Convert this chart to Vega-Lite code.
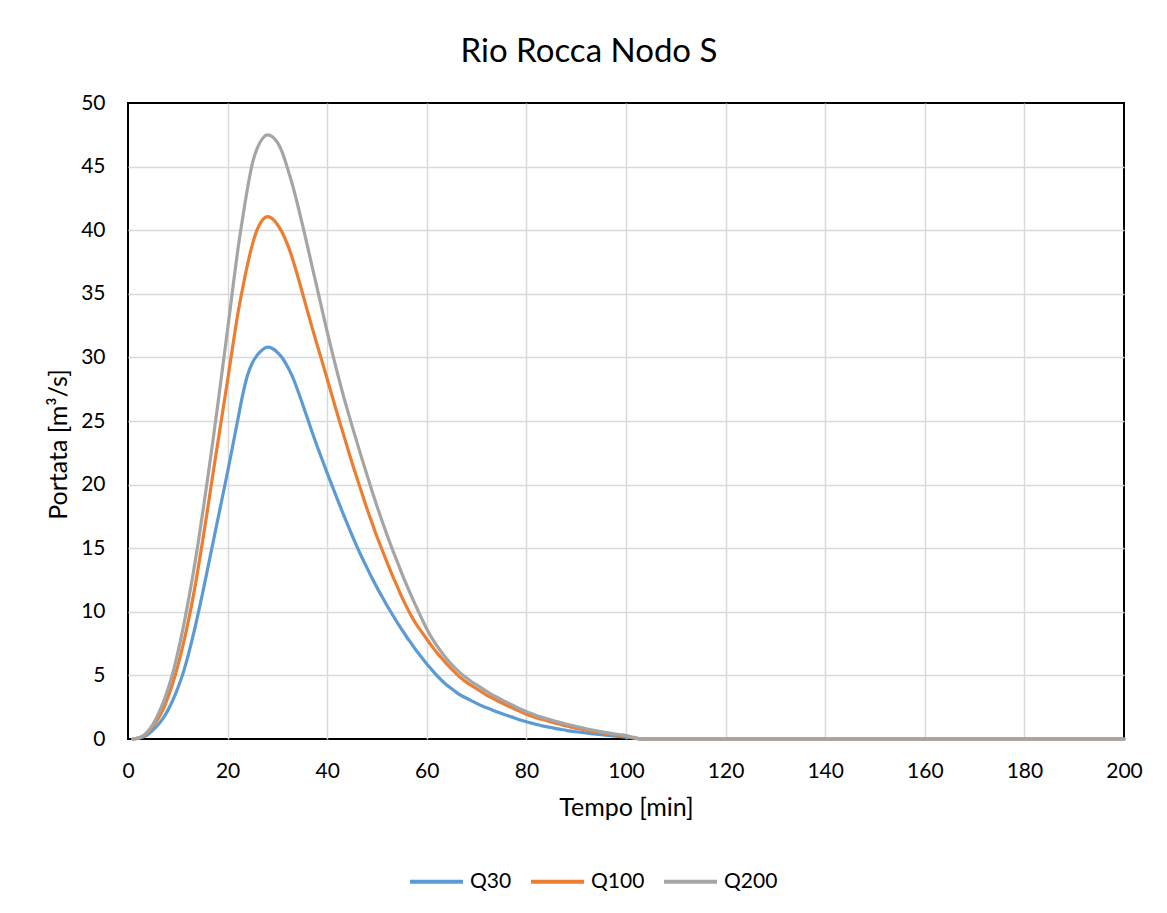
{
  "$schema": "https://vega.github.io/schema/vega-lite/v6.json",
  "width": 996,
  "height": 636,
  "autosize": {"type": "none"},
  "padding": {"left": 128, "top": 103, "right": 43, "bottom": 174},
  "background": "white",
  "title": {
    "text": "Rio Rocca Nodo S",
    "font": "Lato",
    "fontSize": 33,
    "fontWeight": "normal",
    "color": "#000000",
    "anchor": "middle",
    "frame": "group",
    "baseline": "alphabetic",
    "dx": -37,
    "offset": -3
  },
  "data": {
    "values": [
      {"t": 1, "Q30": 0, "Q100": 0, "Q200": 0},
      {"t": 2, "Q30": 0.05, "Q100": 0.07, "Q200": 0.08},
      {"t": 3, "Q30": 0.15, "Q100": 0.22, "Q200": 0.25},
      {"t": 4, "Q30": 0.35, "Q100": 0.5, "Q200": 0.6},
      {"t": 5, "Q30": 0.7, "Q100": 1.0, "Q200": 1.15},
      {"t": 6, "Q30": 1.1, "Q100": 1.55, "Q200": 1.9},
      {"t": 7, "Q30": 1.6, "Q100": 2.3, "Q200": 2.8},
      {"t": 8, "Q30": 2.25, "Q100": 3.25, "Q200": 3.9},
      {"t": 9, "Q30": 3.05, "Q100": 4.4, "Q200": 5.2},
      {"t": 10, "Q30": 4.0, "Q100": 5.75, "Q200": 6.8},
      {"t": 11, "Q30": 5.1, "Q100": 7.3, "Q200": 8.6},
      {"t": 12, "Q30": 6.45, "Q100": 9.05, "Q200": 10.6},
      {"t": 13, "Q30": 8.0, "Q100": 11.0, "Q200": 12.8},
      {"t": 14, "Q30": 9.7, "Q100": 13.2, "Q200": 15.2},
      {"t": 15, "Q30": 11.5, "Q100": 15.6, "Q200": 17.8},
      {"t": 16, "Q30": 13.4, "Q100": 18.1, "Q200": 20.5},
      {"t": 17, "Q30": 15.3, "Q100": 20.7, "Q200": 23.3},
      {"t": 18, "Q30": 17.2, "Q100": 23.2, "Q200": 26.2},
      {"t": 19, "Q30": 19.1, "Q100": 25.7, "Q200": 29.2},
      {"t": 20, "Q30": 21.0, "Q100": 28.2, "Q200": 32.2},
      {"t": 21, "Q30": 23.0, "Q100": 30.8, "Q200": 35.3},
      {"t": 22, "Q30": 25.0, "Q100": 33.3, "Q200": 38.3},
      {"t": 23, "Q30": 27.0, "Q100": 35.4, "Q200": 40.9},
      {"t": 24, "Q30": 28.6, "Q100": 37.3, "Q200": 43.3},
      {"t": 25, "Q30": 29.6, "Q100": 38.9, "Q200": 45.3},
      {"t": 26, "Q30": 30.2, "Q100": 40.1, "Q200": 46.5},
      {"t": 27, "Q30": 30.6, "Q100": 40.8, "Q200": 47.2},
      {"t": 28, "Q30": 30.8, "Q100": 41.06, "Q200": 47.5},
      {"t": 29, "Q30": 30.7, "Q100": 40.9, "Q200": 47.35},
      {"t": 30, "Q30": 30.4, "Q100": 40.45, "Q200": 46.9},
      {"t": 31, "Q30": 29.95, "Q100": 39.8, "Q200": 46.1},
      {"t": 32, "Q30": 29.3, "Q100": 38.9, "Q200": 44.9},
      {"t": 33, "Q30": 28.5, "Q100": 37.8, "Q200": 43.6},
      {"t": 34, "Q30": 27.5, "Q100": 36.5, "Q200": 42.1},
      {"t": 35, "Q30": 26.4, "Q100": 35.1, "Q200": 40.5},
      {"t": 36, "Q30": 25.25, "Q100": 33.7, "Q200": 38.8},
      {"t": 37, "Q30": 24.1, "Q100": 32.3, "Q200": 37.1},
      {"t": 38, "Q30": 23.0, "Q100": 30.95, "Q200": 35.4},
      {"t": 39, "Q30": 21.95, "Q100": 29.65, "Q200": 33.7},
      {"t": 40, "Q30": 20.9, "Q100": 28.3, "Q200": 32.0},
      {"t": 41, "Q30": 19.9, "Q100": 26.95, "Q200": 30.4},
      {"t": 42, "Q30": 18.9, "Q100": 25.6, "Q200": 28.85},
      {"t": 43, "Q30": 17.9, "Q100": 24.3, "Q200": 27.35},
      {"t": 44, "Q30": 16.95, "Q100": 23.0, "Q200": 25.95},
      {"t": 45, "Q30": 16.0, "Q100": 21.7, "Q200": 24.6},
      {"t": 46, "Q30": 15.1, "Q100": 20.5, "Q200": 23.3},
      {"t": 47, "Q30": 14.25, "Q100": 19.3, "Q200": 22.0},
      {"t": 48, "Q30": 13.45, "Q100": 18.1, "Q200": 20.75},
      {"t": 49, "Q30": 12.65, "Q100": 17.0, "Q200": 19.5},
      {"t": 50, "Q30": 11.9, "Q100": 15.9, "Q200": 18.3},
      {"t": 51, "Q30": 11.2, "Q100": 14.9, "Q200": 17.15},
      {"t": 52, "Q30": 10.5, "Q100": 13.9, "Q200": 16.05},
      {"t": 53, "Q30": 9.85, "Q100": 12.95, "Q200": 15.0},
      {"t": 54, "Q30": 9.2, "Q100": 12.05, "Q200": 14.0},
      {"t": 55, "Q30": 8.6, "Q100": 11.15, "Q200": 13.0},
      {"t": 56, "Q30": 8.0, "Q100": 10.35, "Q200": 12.05},
      {"t": 57, "Q30": 7.45, "Q100": 9.6, "Q200": 11.15},
      {"t": 58, "Q30": 6.9, "Q100": 8.95, "Q200": 10.3},
      {"t": 59, "Q30": 6.4, "Q100": 8.4, "Q200": 9.45},
      {"t": 60, "Q30": 5.9, "Q100": 7.85, "Q200": 8.65},
      {"t": 61, "Q30": 5.45, "Q100": 7.3, "Q200": 7.95},
      {"t": 62, "Q30": 5.0, "Q100": 6.8, "Q200": 7.35},
      {"t": 63, "Q30": 4.6, "Q100": 6.35, "Q200": 6.8},
      {"t": 64, "Q30": 4.25, "Q100": 5.9, "Q200": 6.3},
      {"t": 65, "Q30": 3.95, "Q100": 5.5, "Q200": 5.85},
      {"t": 66, "Q30": 3.65, "Q100": 5.1, "Q200": 5.45},
      {"t": 67, "Q30": 3.4, "Q100": 4.75, "Q200": 5.1},
      {"t": 68, "Q30": 3.2, "Q100": 4.45, "Q200": 4.8},
      {"t": 69, "Q30": 3.0, "Q100": 4.2, "Q200": 4.5},
      {"t": 70, "Q30": 2.8, "Q100": 3.95, "Q200": 4.25},
      {"t": 71, "Q30": 2.62, "Q100": 3.7, "Q200": 4.0},
      {"t": 72, "Q30": 2.45, "Q100": 3.45, "Q200": 3.75},
      {"t": 73, "Q30": 2.3, "Q100": 3.25, "Q200": 3.5},
      {"t": 74, "Q30": 2.15, "Q100": 3.05, "Q200": 3.3},
      {"t": 75, "Q30": 2.0, "Q100": 2.85, "Q200": 3.1},
      {"t": 76, "Q30": 1.87, "Q100": 2.65, "Q200": 2.9},
      {"t": 77, "Q30": 1.74, "Q100": 2.47, "Q200": 2.7},
      {"t": 78, "Q30": 1.6, "Q100": 2.3, "Q200": 2.5},
      {"t": 79, "Q30": 1.47, "Q100": 2.12, "Q200": 2.32},
      {"t": 80, "Q30": 1.36, "Q100": 1.95, "Q200": 2.15},
      {"t": 81, "Q30": 1.25, "Q100": 1.8, "Q200": 2.0},
      {"t": 82, "Q30": 1.15, "Q100": 1.67, "Q200": 1.85},
      {"t": 83, "Q30": 1.05, "Q100": 1.55, "Q200": 1.72},
      {"t": 84, "Q30": 0.97, "Q100": 1.45, "Q200": 1.6},
      {"t": 85, "Q30": 0.9, "Q100": 1.34, "Q200": 1.49},
      {"t": 86, "Q30": 0.82, "Q100": 1.23, "Q200": 1.38},
      {"t": 87, "Q30": 0.75, "Q100": 1.12, "Q200": 1.27},
      {"t": 88, "Q30": 0.68, "Q100": 1.02, "Q200": 1.17},
      {"t": 89, "Q30": 0.62, "Q100": 0.93, "Q200": 1.07},
      {"t": 90, "Q30": 0.57, "Q100": 0.85, "Q200": 0.98},
      {"t": 91, "Q30": 0.52, "Q100": 0.77, "Q200": 0.89},
      {"t": 92, "Q30": 0.47, "Q100": 0.69, "Q200": 0.81},
      {"t": 93, "Q30": 0.42, "Q100": 0.62, "Q200": 0.73},
      {"t": 94, "Q30": 0.38, "Q100": 0.55, "Q200": 0.65},
      {"t": 95, "Q30": 0.34, "Q100": 0.49, "Q200": 0.58},
      {"t": 96, "Q30": 0.3, "Q100": 0.43, "Q200": 0.51},
      {"t": 97, "Q30": 0.26, "Q100": 0.37, "Q200": 0.44},
      {"t": 98, "Q30": 0.22, "Q100": 0.32, "Q200": 0.38},
      {"t": 99, "Q30": 0.19, "Q100": 0.27, "Q200": 0.33},
      {"t": 100, "Q30": 0.15, "Q100": 0.22, "Q200": 0.27},
      {"t": 101, "Q30": 0.1, "Q100": 0.14, "Q200": 0.18},
      {"t": 102, "Q30": 0.05, "Q100": 0.07, "Q200": 0.09},
      {"t": 103, "Q30": 0, "Q100": 0, "Q200": 0},
      {"t": 104, "Q30": 0, "Q100": 0, "Q200": 0},
      {"t": 105, "Q30": 0, "Q100": 0, "Q200": 0},
      {"t": 110, "Q30": 0, "Q100": 0, "Q200": 0},
      {"t": 115, "Q30": 0, "Q100": 0, "Q200": 0},
      {"t": 120, "Q30": 0, "Q100": 0, "Q200": 0},
      {"t": 125, "Q30": 0, "Q100": 0, "Q200": 0},
      {"t": 130, "Q30": 0, "Q100": 0, "Q200": 0},
      {"t": 135, "Q30": 0, "Q100": 0, "Q200": 0},
      {"t": 140, "Q30": 0, "Q100": 0, "Q200": 0},
      {"t": 145, "Q30": 0, "Q100": 0, "Q200": 0},
      {"t": 150, "Q30": 0, "Q100": 0, "Q200": 0},
      {"t": 155, "Q30": 0, "Q100": 0, "Q200": 0},
      {"t": 160, "Q30": 0, "Q100": 0, "Q200": 0},
      {"t": 165, "Q30": 0, "Q100": 0, "Q200": 0},
      {"t": 170, "Q30": 0, "Q100": 0, "Q200": 0},
      {"t": 175, "Q30": 0, "Q100": 0, "Q200": 0},
      {"t": 180, "Q30": 0, "Q100": 0, "Q200": 0},
      {"t": 185, "Q30": 0, "Q100": 0, "Q200": 0},
      {"t": 190, "Q30": 0, "Q100": 0, "Q200": 0},
      {"t": 195, "Q30": 0, "Q100": 0, "Q200": 0},
      {"t": 200, "Q30": 0, "Q100": 0, "Q200": 0}
    ]
  },
  "transform": [
    {"fold": ["Q30", "Q100", "Q200"], "as": ["serie", "Q"]}
  ],
  "mark": {"type": "line", "strokeWidth": 3.2, "strokeCap": "round", "strokeJoin": "round", "interpolate": "monotone"},
  "encoding": {
    "x": {
      "field": "t",
      "type": "quantitative",
      "scale": {"domain": [0, 200], "nice": false},
      "axis": {
        "title": "Tempo [min]",
        "values": [0, 20, 40, 60, 80, 100, 120, 140, 160, 180, 200],
        "labelFlush": false,
        "labelPadding": 21,
        "titlePadding": 14,
        "gridOpacity": {"condition": {"test": "datum.value === 0 || datum.value === 200", "value": 0}, "value": 1}
      }
    },
    "y": {
      "field": "Q",
      "type": "quantitative",
      "scale": {"domain": [0, 50], "nice": false},
      "axis": {
        "title": "Portata [m³/s]",
        "values": [0, 5, 10, 15, 20, 25, 30, 35, 40, 45, 50],
        "labelFlush": false,
        "labelPadding": 23,
        "titlePadding": 9,
        "titleY": 341,
        "gridOpacity": {"condition": {"test": "datum.value === 0 || datum.value === 50", "value": 0}, "value": 1}
      }
    },
    "color": {
      "field": "serie",
      "type": "nominal",
      "sort": ["Q30", "Q100", "Q200"],
      "scale": {"domain": ["Q30", "Q100", "Q200"], "range": ["#5B9BD5", "#ED7D31", "#A5A5A5"]},
      "legend": {
        "title": null,
        "orient": "none",
        "legendX": 280,
        "legendY": 750,
        "direction": "horizontal",
        "symbolType": "stroke",
        "symbolSize": 2809,
        "symbolStrokeWidth": 4,
        "labelFont": "Lato",
        "labelFontSize": 21,
        "labelColor": "#000000",
        "labelOffset": 5,
        "columnPadding": 11,
        "padding": 0
      }
    }
  },
  "config": {
    "view": {"stroke": "#000000", "strokeWidth": 2},
    "axis": {
      "grid": true,
      "gridColor": "#D9D9D9",
      "gridWidth": 1.5,
      "domain": false,
      "ticks": false,
      "tickSize": 0,
      "labelFont": "Lato",
      "labelFontSize": 21,
      "labelColor": "#000000",
      "titleFont": "Lato",
      "titleFontSize": 25,
      "titleFontWeight": "normal",
      "titleColor": "#000000"
    }
  }
}
